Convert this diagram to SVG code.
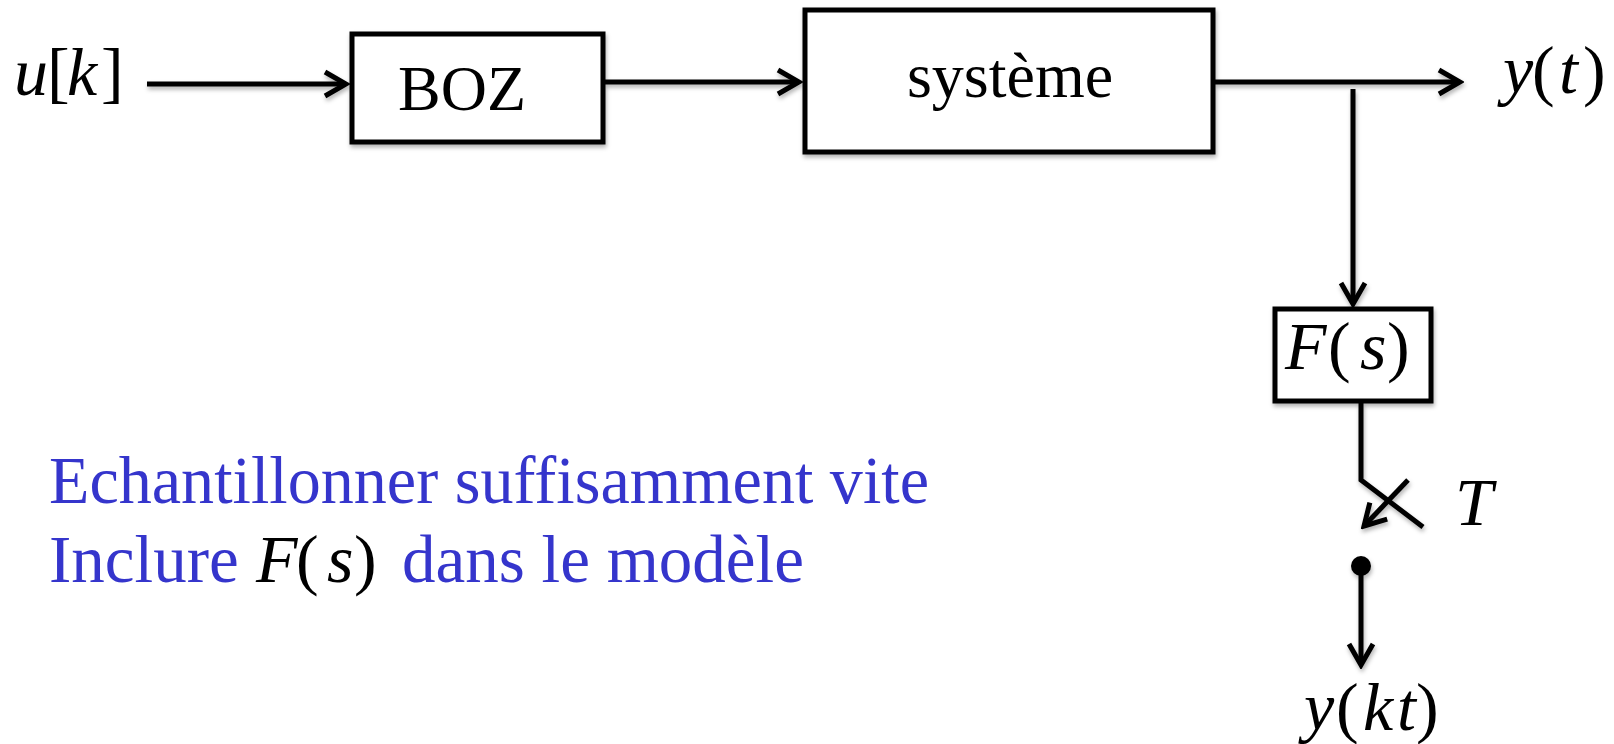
<svg xmlns="http://www.w3.org/2000/svg" width="1614" height="744" viewBox="0 0 1614 744">
  <style>
    .box { fill: #ffffff; stroke: #000000; stroke-width: 5; }
    .wire { fill: none; stroke: #000000; stroke-width: 5; stroke-linejoin: miter; }
    .lbl { font-family: "Liberation Serif", "Times New Roman", serif; font-size: 64px; fill: #000000; }
    .math { font-family: "Liberation Serif", "Times New Roman", serif; font-size: 68px; fill: #000000; }
    .it { font-style: italic; }
    .note { font-family: "Liberation Serif", "Times New Roman", serif; font-size: 67px; fill: #3535CC; }
  </style>
  <defs>
    <marker id="arr" markerUnits="userSpaceOnUse" viewBox="-26 -15 30 30" refX="0" refY="0" markerWidth="30" markerHeight="30" orient="auto">
      <path d="M-21,-12 L0,0 L-21,12" fill="none" stroke="#000000" stroke-width="5" stroke-linejoin="miter"/>
    </marker>
    <filter id="sh" x="-10%" y="-10%" width="130%" height="140%">
      <feDropShadow dx="1" dy="3" stdDeviation="2" flood-color="#000000" flood-opacity="0.3"/>
    </filter>
  </defs>
  <rect width="1614" height="744" fill="#ffffff"/>

  <g id="connectors" filter="url(#sh)">
    <path class="wire" d="M147,84 L346,84" marker-end="url(#arr)"/>
    <path class="wire" d="M605,82 L799,82" marker-end="url(#arr)"/>
    <path class="wire" d="M1215,82 L1460,82" marker-end="url(#arr)"/>
    <path class="wire" d="M1353,89 L1353,304" marker-end="url(#arr)"/>
    <path class="wire" d="M1361,403 L1361,480 L1423,527"/>
    <path class="wire" d="M1408,480 L1364,526" marker-end="url(#arr)"/>
    <circle cx="1361" cy="566" r="10" fill="#000000"/>
    <path class="wire" d="M1361,566 L1361,665" marker-end="url(#arr)"/>
  </g>

  <g id="input-u">
    <text class="math" y="95"><tspan class="it" x="14">u</tspan><tspan x="47">[</tspan><tspan class="it" x="67">k</tspan><tspan x="101">]</tspan></text>
  </g>

  <g id="node-boz">
    <rect class="box" x="352" y="34" width="251" height="108" filter="url(#sh)"/>
    <text class="lbl" x="462" y="110" text-anchor="middle">BOZ</text>
  </g>

  <g id="node-systeme">
    <rect class="box" x="805" y="10" width="408" height="142" filter="url(#sh)"/>
    <text class="lbl" x="1010" y="97" text-anchor="middle">système</text>
  </g>

  <g id="output-y">
    <text class="math" y="93"><tspan class="it" x="1503">y</tspan><tspan x="1532">(</tspan><tspan class="it" x="1559">t</tspan><tspan x="1583">)</tspan></text>
  </g>

  <g id="node-filter">
    <rect class="box" x="1275" y="309" width="156" height="92" filter="url(#sh)"/>
    <text class="math" y="369"><tspan class="it" x="1285">F</tspan><tspan x="1328">(</tspan><tspan class="it" x="1360">s</tspan><tspan x="1387">)</tspan></text>
  </g>

  <g id="sampler-label">
    <text class="math it" x="1455" y="525">T</text>
  </g>

  <g id="output-ykt">
    <text class="math" y="730"><tspan class="it" x="1304">y</tspan><tspan x="1336">(</tspan><tspan class="it" x="1363">k</tspan><tspan class="it" x="1397">t</tspan><tspan x="1416">)</tspan></text>
  </g>

  <g id="notes">
    <text class="note" x="49" y="503" textLength="880" lengthAdjust="spacingAndGlyphs">Echantillonner suffisamment vite</text>
    <text class="note" x="49" y="582">Inclure</text>
    <text class="math" y="582"><tspan class="it" x="256">F</tspan><tspan x="296">(</tspan><tspan class="it" x="327">s</tspan><tspan x="354">)</tspan></text>
    <text class="note" x="402" y="582">dans le modèle</text>
  </g>
</svg>
